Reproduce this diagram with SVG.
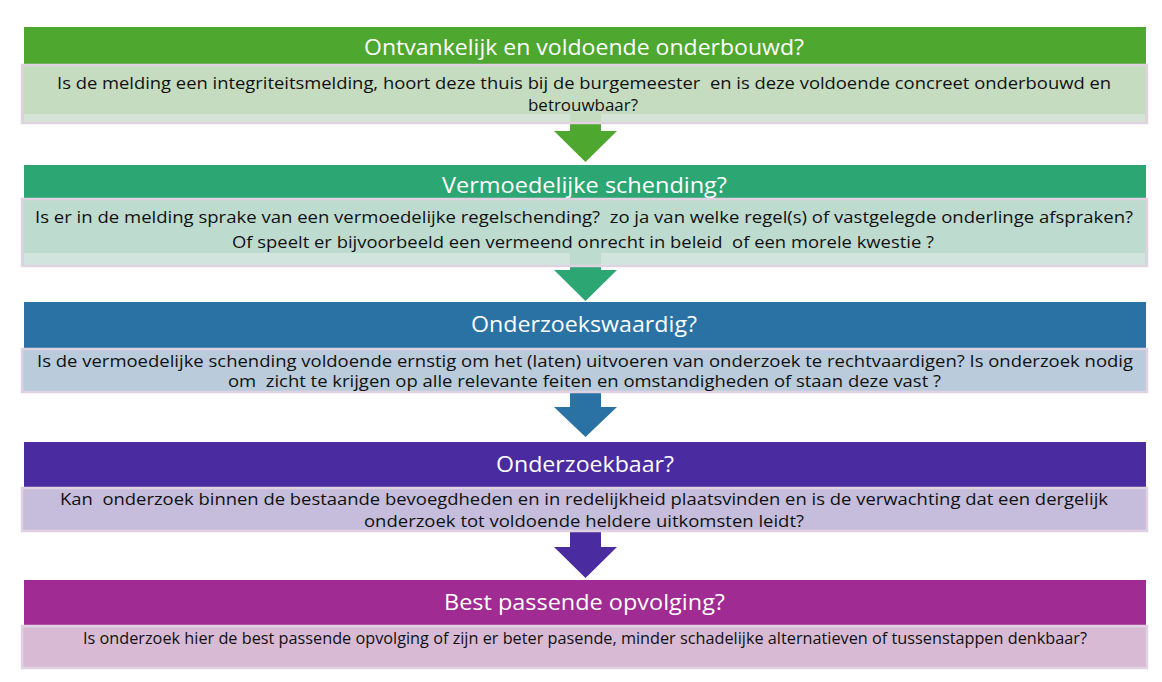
<svg xmlns="http://www.w3.org/2000/svg" width="1162" height="682" viewBox="0 0 1162 682">
<style>
  .hd { font-family: "Open Sans", "Liberation Sans", sans-serif; font-size: 22px; fill: #ffffff; text-anchor: middle; white-space: pre; }
  .bd { font-family: "Open Sans", "Liberation Sans", sans-serif; font-size: 16px; fill: #111111; text-anchor: middle; white-space: pre; }
  .box { stroke: #e1d2e1; stroke-width: 2.5; }
</style>
<rect x="0" y="0" width="1162" height="682" fill="#ffffff"/>

<g id="connectors">
  <polygon fill="#4ea72e" points="570,122 601,122 601,131 617,131 585.5,162 554,131 570,131"/>
  <polygon fill="#2ca673" points="570,265 601,265 601,270 617,270 585.5,301 554,270 570,270"/>
  <polygon fill="#2a71a4" points="570,392 601,392 601,407 617,407 585.5,437 554,407 570,407"/>
  <polygon fill="#4b2ca0" points="570,531 601,531 601,547 617,547 585.5,578 554,547 570,547"/>
</g>

<g id="step1">
  <rect x="24" y="27" width="1122" height="37" fill="#4ea72e"/>
  <rect class="box" x="22" y="65" width="1125" height="58" fill="#c5dcc0"/>
  <rect x="24" y="114" width="546" height="8" fill="#d5e4d6"/>
  <rect x="601" y="114" width="544" height="8" fill="#d5e4d6"/>
  <text class="hd" x="584" y="55" textLength="440" lengthAdjust="spacingAndGlyphs">Ontvankelijk en voldoende onderbouwd?</text>
  <text class="bd" x="584" y="89" textLength="1054" lengthAdjust="spacingAndGlyphs">Is de melding een integriteitsmelding, hoort deze thuis bij de burgemeester  en is deze voldoende concreet onderbouwd en</text>
  <text class="bd" x="583" y="111" textLength="110" lengthAdjust="spacingAndGlyphs">betrouwbaar?</text>
</g>

<g id="step2">
  <rect x="24" y="165" width="1122" height="34" fill="#2ca673"/>
  <rect class="box" x="22" y="199" width="1125" height="67" fill="#bedbd0"/>
  <rect x="24" y="253" width="546" height="12" fill="#d1e5de"/>
  <rect x="601" y="253" width="544" height="12" fill="#d1e5de"/>
  <text class="hd" x="584.5" y="193" textLength="285" lengthAdjust="spacingAndGlyphs">Vermoedelijke schending?</text>
  <text class="bd" x="584" y="223" textLength="1098" lengthAdjust="spacingAndGlyphs">Is er in de melding sprake van een vermoedelijke regelschending?  zo ja van welke regel(s) of vastgelegde onderlinge afspraken?</text>
  <text class="bd" x="583" y="248" textLength="702" lengthAdjust="spacingAndGlyphs">Of speelt er bijvoorbeeld een vermeend onrecht in beleid  of een morele kwestie ?</text>
</g>

<g id="step3">
  <rect x="24" y="302" width="1122" height="47" fill="#2a71a4"/>
  <rect class="box" x="22" y="349" width="1125" height="43" fill="#bacbdb"/>
  <text class="hd" x="584" y="332" textLength="226" lengthAdjust="spacingAndGlyphs">Onderzoekswaardig?</text>
  <text class="bd" x="585" y="367" textLength="1096" lengthAdjust="spacingAndGlyphs">Is de vermoedelijke schending voldoende ernstig om het (laten) uitvoeren van onderzoek te rechtvaardigen? Is onderzoek nodig</text>
  <text class="bd" x="584.5" y="387" textLength="713" lengthAdjust="spacingAndGlyphs">om  zicht te krijgen op alle relevante feiten en omstandigheden of staan deze vast ?</text>
</g>

<g id="step4">
  <rect x="24" y="442" width="1122" height="46" fill="#4b2ca0"/>
  <rect class="box" x="22" y="488" width="1125" height="43" fill="#c5bddb"/>
  <text class="hd" x="585" y="472" textLength="178" lengthAdjust="spacingAndGlyphs">Onderzoekbaar?</text>
  <text class="bd" x="584" y="505" textLength="1048" lengthAdjust="spacingAndGlyphs">Kan  onderzoek binnen de bestaande bevoegdheden en in redelijkheid plaatsvinden en is de verwachting dat een dergelijk</text>
  <text class="bd" x="584" y="527" textLength="440" lengthAdjust="spacingAndGlyphs">onderzoek tot voldoende heldere uitkomsten leidt?</text>
</g>

<g id="step5">
  <rect x="24" y="580" width="1122" height="46" fill="#a02b93"/>
  <rect class="box" x="22" y="626" width="1125" height="42" fill="#d8bad4"/>
  <text class="hd" x="584.5" y="610" textLength="281" lengthAdjust="spacingAndGlyphs">Best passende opvolging?</text>
  <text class="bd" x="585" y="644" style="font-size:15.5px" textLength="1004" lengthAdjust="spacingAndGlyphs">Is onderzoek hier de best passende opvolging of zijn er beter pasende, minder schadelijke alternatieven of tussenstappen denkbaar?</text>
</g>
</svg>
